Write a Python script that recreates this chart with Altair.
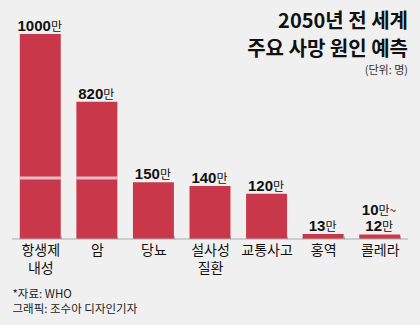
import altair as alt
import pandas as pd

# ---- data ----
categories = ["항생제\n내성", "암", "당뇨", "설사성\n질환", "교통사고", "홍역", "콜레라"]
values = [1000, 820, 150, 140, 120, 13, 12]

# value labels (number part + unit part, line 1 = upper line)
label_cats = ["항생제\n내성", "암", "당뇨", "설사성\n질환", "교통사고", "홍역", "콜레라", "콜레라"]
label_numbers = ["1000", "820", "150", "140", "120", "13", "12", "10"]
label_units = ["만", "만", "만", "만", "만", "만", "만", "만~"]
label_lines = [0, 0, 0, 0, 0, 0, 0, 1]

break_categories = ["항생제\n내성", "암"]
break_value = [185, 185]

title_lines = ["2050년 전 세계", "주요 사망 원인 예측"]
unit_note = "(단위: 명)"
footer_lines = ["*자료: WHO", "그래픽: 조수아 디자인기자"]

BG = "#f0f0f0"
BAR = "#c9384a"
KR = "Noto Sans CJK KR"
NUM = "Liberation Sans Narrow, Liberation Sans, Arial Narrow, sans-serif"
N = len(categories)

bars_df = pd.DataFrame({"cat": categories, "val": values})
val_of = dict(zip(categories, values))
labels_df = pd.DataFrame({
    "cat": label_cats, "num": label_numbers, "unit": label_units, "line": label_lines,
    "val": [val_of[c] for c in label_cats],
    "idx": [categories.index(c) for c in label_cats],
})
break_df = pd.DataFrame({"cat": break_categories, "val": break_value})

PI = 0.276
x_scale = alt.Scale(domain=categories, paddingInner=PI, paddingOuter=PI / 2)
y_scale = alt.Scale(domain=[0, 150, 820, 1000], range=[239, 182.3, 101.7, 34],
                    nice=False, zero=False)
pos_scale = alt.Scale(domain=[0, N], range=[0, 396], nice=False, zero=False)

x_enc = alt.X("cat:N", scale=x_scale, sort=categories,
              axis=alt.Axis(
                  title=footer_lines, titleX=0, titleY=52, titleAlign="left",
                  titleAnchor="start", titleBaseline="top", titleFont=KR,
                  titleFontSize=11.5, titleFontWeight="normal", titleColor="#222",
                  titleLineHeight=15,
                  labelExpr="split(datum.label, '\\n')", labelAngle=0,
                  labelFont=KR, labelFontSize=14, labelColor="#111",
                  labelLineHeight=18, labelBaseline="top", labelPadding=4,
                  domain=False, ticks=True, tickBand="extent", tickSize=3,
                  tickColor="#aaaaaa", tickWidth=1, offset=-3))

bars = alt.Chart(bars_df).mark_bar(color=BAR).encode(
    x=x_enc,
    y=alt.Y("val:Q", scale=y_scale, axis=None),
)

baseline = alt.Chart(pd.DataFrame({"v": [0]})).mark_rule(color="#aaaaaa", strokeWidth=1).encode(
    y=alt.Y("v:Q", scale=y_scale)
)

breaks = alt.Chart(break_df).mark_tick(color="#f6f6f6", thickness=3, size=41).encode(
    x=alt.X("cat:N", scale=x_scale, sort=categories, axis=None),
    y=alt.Y("val:Q", scale=y_scale),
)

step = 396 / N
lab_base = alt.Chart(labels_df).transform_calculate(
    pos=f"datum.idx + 0.5 + (length(datum.num) * 8.3 - (datum.unit == '만' ? 12 : 19)) / 2 / {step}"
)


def label_layer(line, dy):
    src = lab_base.transform_filter(f"datum.line == {line}")
    nums = src.mark_text(font=NUM, fontSize=15, fontWeight="bold", color="#111",
                         align="right", baseline="alphabetic", dy=dy).encode(
        x=alt.X("pos:Q", scale=pos_scale, axis=None),
        y=alt.Y("val:Q", scale=y_scale),
        text="num:N",
    )
    units = src.mark_text(font=KR, fontSize=12, color="#111",
                          align="left", baseline="alphabetic", dy=dy).encode(
        x=alt.X("pos:Q", scale=pos_scale, axis=None),
        y=alt.Y("val:Q", scale=y_scale),
        text="unit:N",
    )
    return [nums, units]


layers = [bars, baseline, breaks] + label_layer(0, -3) + label_layer(1, -19)

chart = alt.layer(*layers).resolve_scale(x="independent").properties(
    width=396, height=239,
    padding={"left": 12, "right": 12, "top": 0, "bottom": 86},
    autosize=alt.AutoSizeParams(type="none"),
    background=BG,
    title=alt.TitleParams(
        text=title_lines, subtitle=unit_note, anchor="end", frame="group",
        font=KR, fontSize=20, fontWeight="bold", color="#111", lineHeight=28,
        subtitleFont=KR, subtitleFontSize=11, subtitleColor="#333",
        subtitlePadding=5, offset=0, dy=76,
    ),
).configure_view(stroke=None)

chart.save("out.html", embed_options={"renderer": "svg", "actions": False})
